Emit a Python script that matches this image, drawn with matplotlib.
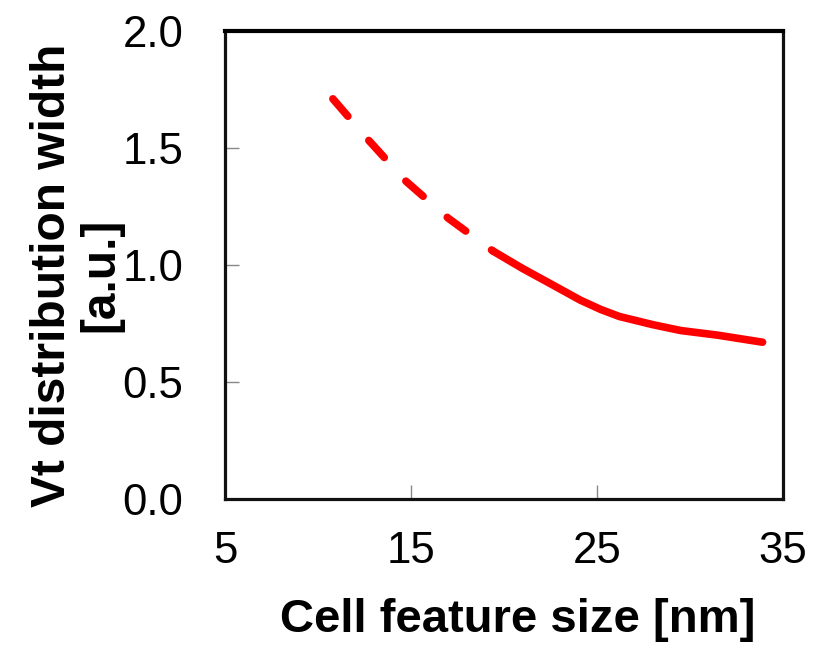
import matplotlib
matplotlib.use("Agg")
import matplotlib.pyplot as plt

# Data
x_dashed = [10.8, 12.7, 14.7, 17.0, 19.4]
y_dashed = [1.71, 1.535, 1.36, 1.20, 1.06]
x_solid = [19.4, 21.0, 22.5, 24.1, 25.2, 26.2, 28.0, 29.5, 31.5, 33.9]
y_solid = [1.06, 0.985, 0.92, 0.85, 0.81, 0.78, 0.745, 0.72, 0.70, 0.67]
x_ticks = [5, 15, 25, 35]
y_ticks = [0.0, 0.5, 1.0, 1.5, 2.0]
y_tick_labels = ["0.0", "0.5", "1.0", "1.5", "2.0"]

plt.rcParams['font.family'] = ['Liberation Sans', 'DejaVu Sans']

fig = plt.figure(figsize=(8.21, 6.45), dpi=100)
ax = fig.add_axes([225/821, 1-499/645, (783-225)/821, (499-31)/645])

red = '#ff0000'
ax.plot(x_dashed, y_dashed, color=red, lw=5.5, linestyle=(0, (3.0, 4.2)),
        dash_capstyle='round', solid_capstyle='round')
ax.plot(x_solid, y_solid, color=red, lw=5.5, solid_capstyle='round',
        solid_joinstyle='round')

ax.set_xlim(5, 35)
ax.set_ylim(0, 2.0)
ax.set_xticks(x_ticks)
ax.set_xticklabels([str(v) for v in x_ticks])
ax.set_yticks(y_ticks)
ax.set_yticklabels(y_tick_labels)

for s in ['left', 'bottom', 'right']:
    ax.spines[s].set_linewidth(2.3)
    ax.spines[s].set_color('#111111')
ax.spines['top'].set_linewidth(3.0)
ax.spines['top'].set_color('#000000')

ax.tick_params(axis='both', direction='in', length=10, width=1.0,
               color='#888888', labelsize=31.5)
ax.tick_params(axis='y', pad=30)
ax.tick_params(axis='x', pad=23)

fig.text(518/821, 1-632/645, "Cell feature size [nm]", ha='center',
         va='baseline', fontsize=34, fontweight='bold')
fig.text(77/821, 1-275/645, "Vt distribution width\n[a.u.]", ha='center',
         va='center', rotation=90, fontsize=34.5, fontweight='bold',
         multialignment='center', linespacing=1.1)

fig.savefig("out.png", dpi=100)
